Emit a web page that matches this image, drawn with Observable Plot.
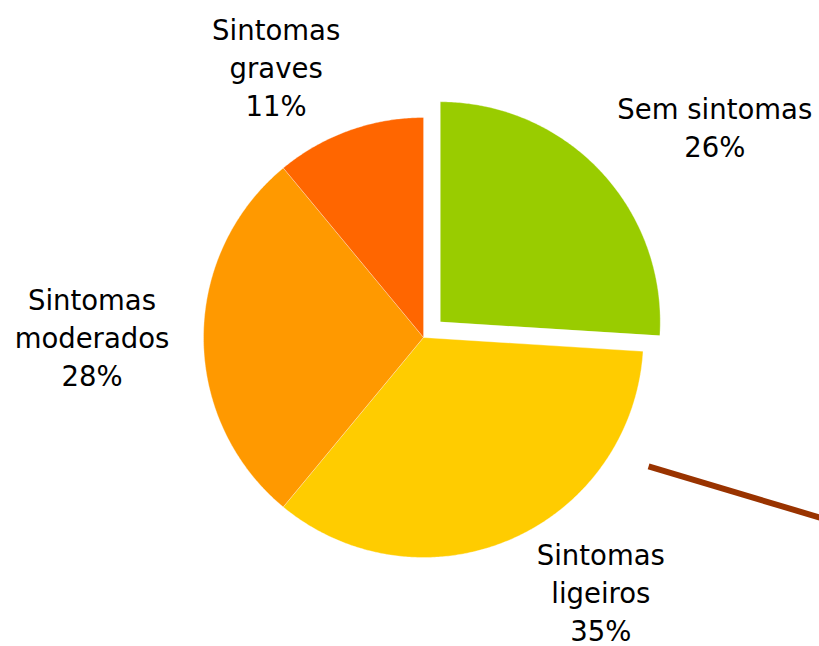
<!DOCTYPE html>
<html>
<head>
<meta charset="utf-8">
<script src="https://cdn.jsdelivr.net/npm/d3@7"></script>
<script src="https://cdn.jsdelivr.net/npm/@observablehq/plot@0.6"></script>
<style>
  html, body { margin: 0; padding: 0; background: #ffffff; }
  svg { display: block; }
</style>
</head>
<body>
<div id="chart"></div>
<script>
// ---- data ----
const categories = ["Sem sintomas", "Sintomas ligeiros", "Sintomas moderados", "Sintomas graves"];
const labelTexts = ["Sem sintomas", "Sintomas\nligeiros", "Sintomas\nmoderados", "Sintomas\ngraves"];
const percentages = [26, 35, 28, 11];
const colors = ["#99CC00", "#FFCC00", "#FF9900", "#FF6600"];
const explodedCategory = "Sem sintomas";
// stray leader line (in pie-radius units, relative to pie centre)
const leaderStart = [1.023, -0.586];
const leaderEnd = [1.85, -0.833];

// ---- layout ----
const W = 819, H = 646;
const R = 220;            // pie radius in px
const CX = 423, CY = 337; // pie centre in px
const explodeDist = 23 / R;
const labelRadius = 1.4;
// per-label nudges (px) from the mid-angle anchor
const labelNudge = {
  "Sem sintomas": [50, 15],
  "Sintomas ligeiros": [55, -29],
  "Sintomas moderados": [-23.5, -2],
  "Sintomas graves": [-43, 18]
};

const rows = categories.map((c, i) => ({category: c, value: percentages[i], label: labelTexts[i] + "\n" + percentages[i] + "%"}));
const arcs = d3.pie().sort(null).value(d => d.value)(rows);

const slicePoints = [];
const labelPoints = [];
for (const a of arcs) {
  const c = a.data.category;
  const mid = (a.startAngle + a.endAngle) / 2;
  const e = c === explodedCategory ? explodeDist : 0;
  const ox = e * Math.sin(mid), oy = e * Math.cos(mid);
  slicePoints.push({category: c, x: ox, y: oy});
  const n = Math.max(8, Math.ceil((a.endAngle - a.startAngle) / (Math.PI / 360)));
  for (let k = 0; k <= n; k++) {
    const t = a.startAngle + (a.endAngle - a.startAngle) * k / n;
    slicePoints.push({category: c, x: ox + Math.sin(t), y: oy + Math.cos(t)});
  }
  const nudge = labelNudge[c];
  labelPoints.push({
    category: c,
    label: a.data.label,
    x: ox + labelRadius * Math.sin(mid) + nudge[0] / R,
    y: oy + labelRadius * Math.cos(mid) - nudge[1] / R
  });
}

const chart = Plot.plot({
  width: W,
  height: H,
  margin: 0,
  style: {background: "#ffffff", overflow: "hidden"},
  x: {domain: [-CX / R, (W - CX) / R], range: [0, W], axis: null},
  y: {domain: [-(H - CY) / R, CY / R], range: [H, 0], axis: null},
  color: {domain: categories, range: colors},
  marks: [
    Plot.line(slicePoints, {
      x: "x", y: "y", z: "category",
      fill: "category", stroke: "#ffffff", strokeWidth: 0.6, strokeOpacity: 0.6,
      curve: "linear-closed"
    }),
    Plot.link([{x1: leaderStart[0], y1: leaderStart[1], x2: leaderEnd[0], y2: leaderEnd[1]}], {
      x1: "x1", y1: "y1", x2: "x2", y2: "y2",
      stroke: "#993300", strokeWidth: 6, strokeLinecap: "butt"
    }),
    Plot.text(labelPoints, {
      x: "x", y: "y", text: "label",
      fontFamily: "DejaVu Sans", fontSize: 27.5, lineHeight: 38 / 27.5,
      textAnchor: "middle", lineAnchor: "middle", fill: "#000000"
    })
  ]
});
document.getElementById("chart").appendChild(chart);
</script>
</body>
</html>
